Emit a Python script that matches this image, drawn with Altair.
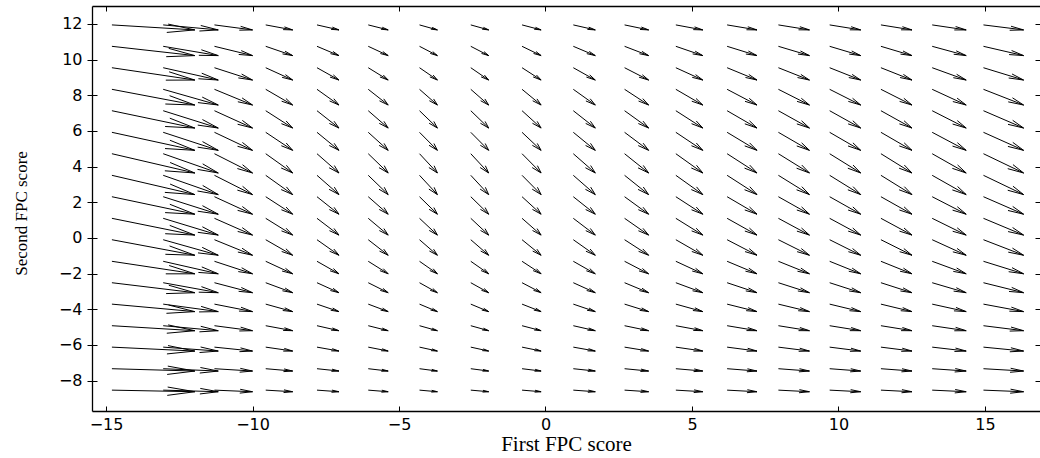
import altair as alt
import pandas as pd

# grid of starting points (first / second FPC score)
x_grid = [-14.80, -13.05, -11.30, -9.55, -7.80, -6.05, -4.30, -2.55, -0.80,
          0.95, 2.70, 4.45, 6.20, 7.95, 9.70, 11.45, 13.20, 14.95]
y_grid = [-8.53, -7.33, -6.12, -4.92, -3.71, -2.51, -1.31, -0.10, 1.10,
          2.31, 3.51, 4.72, 5.92, 7.13, 8.33, 9.54, 10.74, 11.94]
# displayed arrow components (u varies with column, v with row)
u_col = [2.83, 1.88, 1.30, 0.92, 0.75, 0.68, 0.61, 0.61, 0.65,
         0.75, 0.82, 0.92, 1.02, 1.06, 1.06, 1.06, 1.16, 1.37]
v_row = [-0.09, -0.13, -0.22, -0.28, -0.42, -0.56, -0.70, -0.87, -0.94,
         -0.98, -1.08, -1.08, -1.01, -0.97, -0.88, -0.69, -0.52, -0.28]

x_ticks = [-15, -10, -5, 0, 5, 10, 15]
y_ticks = [-8, -6, -4, -2, 0, 2, 4, 6, 8, 10, 12]

ALPHA = 0.33
BETA = 0.25

rows = []
for xi, u in zip(x_grid, u_col):
    for yj, v in zip(y_grid, v_row):
        tx, ty = xi + u, yj + v
        rows.append(dict(x0=xi, y0=yj, x1=tx, y1=ty))
        rows.append(dict(x0=tx, y0=ty,
                         x1=tx - ALPHA * (u + BETA * v),
                         y1=ty - ALPHA * (v - BETA * u)))
        rows.append(dict(x0=tx, y0=ty,
                         x1=tx - ALPHA * (u - BETA * v),
                         y1=ty - ALPHA * (v + BETA * u)))
df = pd.DataFrame(rows)

xs = alt.Scale(domain=[-15.48, 16.88], nice=False, zero=False)
ys = alt.Scale(domain=[-9.7, 13.0], nice=False, zero=False)

W, H = 948, 405
base = alt.Chart(df)


def layer(xaxis, yaxis, visible):
    return base.mark_rule(stroke="black", strokeWidth=1,
                          opacity=1 if visible else 0).encode(
        x=alt.X("x0:Q", scale=xs, axis=xaxis),
        x2="x1:Q",
        y=alt.Y("y0:Q", scale=ys, axis=yaxis),
        y2="y1:Q",
    )


neg_expr = "datum.value < 0 ? '\u2212' + format(-datum.value, 'd') + '\u2007' : datum.label"

x_main = alt.Axis(orient="bottom", values=x_ticks, grid=False, domain=True,
                  domainColor="black", domainWidth=1.3, ticks=False, tickSize=0,
                  labelPadding=5, labelFont="DejaVu Sans", labelFontSize=16,
                  labelColor="black", labelExpr=neg_expr,
                  title="First FPC score", titleFont="Liberation Serif",
                  titleFontSize=21, titleFontWeight="normal", titleColor="black",
                  titleX=W / 2, titleY=39, titleAlign="center",
                  titleBaseline="alphabetic")
y_main = alt.Axis(orient="left", values=y_ticks, grid=False, domain=True,
                  domainColor="black", domainWidth=1.3, ticks=True, tickSize=5,
                  tickColor="black", labelPadding=5, labelFont="DejaVu Sans",
                  labelFontSize=16, labelColor="black",
                  title="Second FPC score", titleFont="Liberation Serif",
                  titleFontSize=17, titleFontWeight="normal", titleColor="black",
                  titleAngle=270, titleX=-71, titleY=207, titleAlign="center",
                  titleBaseline="middle")

x_in_bottom = alt.Axis(orient="bottom", values=x_ticks, grid=False, domain=False,
                       labels=False, ticks=True, tickSize=5, tickColor="black",
                       offset=-5, title="")
y_in_left = alt.Axis(orient="left", values=y_ticks, grid=False, domain=False,
                     labels=False, ticks=True, tickSize=5, tickColor="black",
                     offset=-5, title="")
x_top_line = alt.Axis(orient="top", values=x_ticks, grid=False, domain=True,
                      domainColor="black", domainWidth=1.3, labels=False,
                      ticks=False, title="")
y_in_right = alt.Axis(orient="right", values=y_ticks, grid=False, domain=False,
                      labels=False, ticks=True, tickSize=5, tickColor="black",
                      offset=-5, title="")
x_in_top = alt.Axis(orient="top", values=x_ticks, grid=False, domain=False,
                    labels=False, ticks=True, tickSize=5, tickColor="black",
                    offset=-5, title="")

l2 = layer(x_in_bottom, y_in_left, False)
l3 = layer(x_top_line, y_in_right, False)
l4 = base.mark_rule(opacity=0).encode(
    x=alt.X("x0:Q", scale=xs, axis=x_in_top),
    x2="x1:Q",
    y=alt.Y("y0:Q", scale=ys, axis=None),
    y2="y1:Q",
)
l1 = layer(x_main, y_main, True)

chart = (
    alt.layer(l2, l3, l4, l1)
    .resolve_axis(x="independent", y="independent")
    .properties(
        width=W,
        height=H,
        autosize=alt.AutoSizeParams(type="none"),
        padding={"left": 92, "top": 6, "right": 0, "bottom": 47},
        background="white",
    )
    .configure_view(stroke="transparent")
)

chart.save("out.html", embed_options={"renderer": "svg", "actions": False})
